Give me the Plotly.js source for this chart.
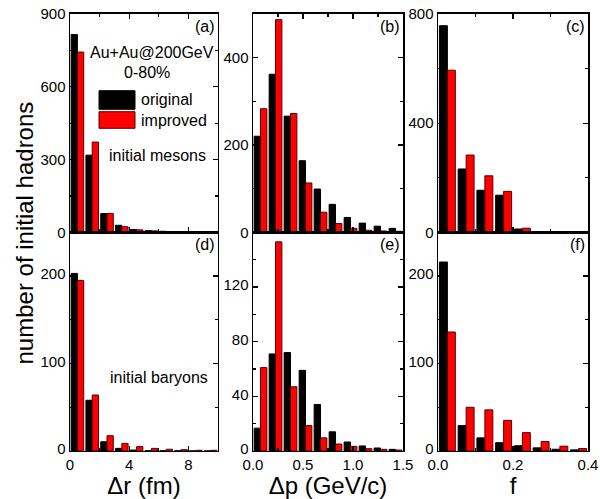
<!DOCTYPE html>
<html>
<head>
<meta charset="utf-8">
<script src="https://cdn.plot.ly/plotly-3.0.1.min.js"></script>
<style>
  html, body { margin: 0; padding: 0; background: #fff; }
  #chart { width: 600px; height: 499px; }
</style>
</head>
<body>
<div id="chart"></div>
<script>
// ---- data ----
const drCenters = [0.5, 1.5, 2.5, 3.5, 4.5, 5.5, 6.5, 7.5, 8.5, 9.5];          // Δr (fm) bin centers
const dpCenters = [0.075, 0.225, 0.375, 0.525, 0.675, 0.825, 0.975, 1.125, 1.275, 1.425]; // Δp (GeV/c)
const fCenters  = [0.025, 0.075, 0.125, 0.175, 0.225, 0.275, 0.325, 0.375];   // f

// (a) initial mesons vs Δr
const mesonDrOriginal = [815, 318, 77, 29, 11, 7, 4, 2, 1.5, 1];
const mesonDrImproved = [743, 372, 77, 23, 10, 6, 3, 2, 1.5, 1];
// (b) initial mesons vs Δp
const mesonDpOriginal = [220, 362, 266, 164, 99, 64, 34, 21, 14, 9];
const mesonDpImproved = [283, 487, 272, 113, 46, 20, 9, 4.6, 3, 2.3];
// (c) initial mesons vs f
const mesonFOriginal = [757, 232, 154, 136, 12, 0, 0, 0];
const mesonFImproved = [594, 283, 207, 150, 15, 0, 0, 0];
// (d) initial baryons vs Δr
const baryonDrOriginal = [203, 58, 10.6, 3, 1.1, 0.4, 0.3, 0.2, 0.1, 0.1];
const baryonDrImproved = [195, 64, 17.5, 8.7, 5, 3, 2, 1.5, 0.8, 0.8];
// (e) initial baryons vs Δp
const baryonDpOriginal = [16.7, 71, 72, 59, 34, 14, 6.6, 3.7, 2.2, 1.2];
const baryonDpImproved = [61, 153, 47, 18.6, 9.6, 5.1, 3.4, 1.7, 1.2, 0.7];
// (f) initial baryons vs f
const baryonFOriginal = [216, 29, 15, 9.5, 6, 3.6, 2, 1.3];
const baryonFImproved = [136, 50, 47, 35, 21, 10.8, 5.5, 2.8];

// tick labels
const drTicks = [0, 4, 8];
const dpTicks = [0, 0.5, 1.0, 1.5];
const fTicks = [0, 0.2, 0.4];
const yTicksA = [0, 300, 600, 900];
const yTicksB = [0, 200, 400];
const yTicksC = [0, 400, 800];
const yTicksD = [0, 100, 200];
const yTicksE = [0, 40, 80, 120];
const yTicksF = [0, 100, 200];

const seriesNames = ['original', 'improved'];
const panelLabels = ['(a)', '(b)', '(c)', '(d)', '(e)', '(f)'];
const xTitles = ['Δr (fm)', 'Δp (GeV/c)', 'f'];
const yTitle = 'number of initial hadrons';

// ---- styling ----
const FONT = 'Liberation Sans, Arial, Helvetica, sans-serif';
const BLACK = '#000000';
const RED = '#ff0000';
const RED_EDGE = '#5a0000';

function pair(xs, orig, impr, n) {
  const xa = n === 1 ? 'x' : 'x' + n;
  const ya = n === 1 ? 'y' : 'y' + n;
  return [
    { type: 'bar', name: seriesNames[0], x: xs, y: orig, xaxis: xa, yaxis: ya,
      marker: { color: BLACK, line: { color: BLACK, width: 1 } }, showlegend: false },
    { type: 'bar', name: seriesNames[1], x: xs, y: impr, xaxis: xa, yaxis: ya,
      marker: { color: RED, line: { color: RED_EDGE, width: 1 } }, showlegend: false }
  ];
}

const data = [].concat(
  pair(drCenters, mesonDrOriginal, mesonDrImproved, 1),
  pair(dpCenters, mesonDpOriginal, mesonDpImproved, 2),
  pair(fCenters, mesonFOriginal, mesonFImproved, 3),
  pair(drCenters, baryonDrOriginal, baryonDrImproved, 4),
  pair(dpCenters, baryonDpOriginal, baryonDpImproved, 5),
  pair(fCenters, baryonFOriginal, baryonFImproved, 6)
);

const colDomains = [[0.1167, 0.3633], [0.4217, 0.6717], [0.73, 0.98]];
const rowDomains = [[0.5345, 0.972], [0.0962, 0.5345]];

const tickFont = { family: FONT, size: 15, color: BLACK };

function xAxis(col, row, range, tickvals, minor, fmt, title) {
  const n = row * 3 + col + 1;
  const ax = {
    domain: colDomains[col], anchor: 'y' + (n === 1 ? '' : n),
    range: range, autorange: false, fixedrange: true,
    showline: true, linecolor: BLACK, linewidth: 1.5,
    mirror: row === 0 ? 'ticks' : true,
    ticks: 'inside', ticklen: 5, tickwidth: 1.2, tickcolor: BLACK,
    tickmode: 'array', tickvals: tickvals, tickformat: fmt,
    minor: { tickmode: 'linear', tick0: 0, dtick: minor, ticks: 'inside', ticklen: 3, tickwidth: 1.2, tickcolor: BLACK, showgrid: false },
    showticklabels: row === 1, tickfont: tickFont,
    showgrid: false, zeroline: false
  };
  if (title) ax.title = { text: title, font: { family: FONT, size: 24, color: BLACK }, standoff: 2 };
  return ax;
}
function yAxis(col, row, range, tickvals, minor) {
  const n = row * 3 + col + 1;
  const ax = {
    domain: rowDomains[row], anchor: 'x' + (n === 1 ? '' : n),
    range: range, autorange: false, fixedrange: true,
    showline: true, linecolor: BLACK, linewidth: 1.5, mirror: 'ticks',
    ticks: 'inside', ticklen: 5, tickwidth: 1.2, tickcolor: BLACK,
    tickmode: 'array', tickvals: tickvals,
    minor: { tickmode: 'linear', tick0: 0, dtick: minor, ticks: 'inside', ticklen: 3, tickwidth: 1.2, tickcolor: BLACK, showgrid: false },
    showticklabels: true, tickfont: tickFont,
    showgrid: false, zeroline: false
  };
  if (row === 1) ax.ticklabelshift = -2;
  return ax;
}

function P(px) { return px / 600; }
function Q(py) { return 1 - py / 499; }

const annFont = { family: FONT, size: 16, color: BLACK };
const annotations = [];
panelLabels.forEach(function (lab, i) {
  annotations.push({
    text: lab, xref: (i === 0 ? 'x' : 'x' + (i + 1)) + ' domain', yref: (i === 0 ? 'y' : 'y' + (i + 1)) + ' domain',
    x: 1, y: 1, xanchor: 'right', yanchor: 'top', xshift: -1, yshift: -2,
    showarrow: false, font: annFont
  });
});
annotations.push(
  { text: 'Au+Au@200GeV', xref: 'paper', yref: 'paper', x: P(152), y: Q(52), showarrow: false, font: annFont, xanchor: 'center', yanchor: 'middle' },
  { text: '0-80%', xref: 'paper', yref: 'paper', x: P(147), y: Q(72), showarrow: false, font: annFont, xanchor: 'center', yanchor: 'middle' },
  { text: seriesNames[0], xref: 'paper', yref: 'paper', x: P(139), y: Q(100), showarrow: false, font: annFont, xanchor: 'left', yanchor: 'middle' },
  { text: seriesNames[1], xref: 'paper', yref: 'paper', x: P(139), y: Q(120.5), showarrow: false, font: annFont, xanchor: 'left', yanchor: 'middle' },
  { text: 'initial mesons', xref: 'paper', yref: 'paper', x: P(158), y: Q(155), showarrow: false, font: annFont, xanchor: 'center', yanchor: 'middle' },
  { text: 'initial baryons', xref: 'paper', yref: 'paper', x: P(159), y: Q(377), showarrow: false, font: annFont, xanchor: 'center', yanchor: 'middle' },
  { text: yTitle, xref: 'paper', yref: 'paper', x: P(24), y: Q(233.5), textangle: -90, showarrow: false,
    font: { family: FONT, size: 24, color: BLACK }, xanchor: 'center', yanchor: 'middle' }
);

const shapes = [
  { type: 'rect', xref: 'paper', yref: 'paper', x0: P(99), x1: P(135), y0: Q(109.3), y1: Q(90.7),
    fillcolor: BLACK, line: { color: BLACK, width: 1 } },
  { type: 'rect', xref: 'paper', yref: 'paper', x0: P(99), x1: P(135), y0: Q(128.3), y1: Q(111.7),
    fillcolor: RED, line: { color: RED_EDGE, width: 1 } }
];

const layout = {
  width: 600, height: 499,
  margin: { l: 0, r: 0, t: 0, b: 0, pad: 0 },
  paper_bgcolor: '#ffffff', plot_bgcolor: '#ffffff',
  font: { family: FONT, color: BLACK },
  showlegend: false,
  barmode: 'group', bargap: 0.15, bargroupgap: 0,
  xaxis:  xAxis(0, 0, [0, 10], drTicks, 2, '', null),
  xaxis2: xAxis(1, 0, [0, 1.5], dpTicks, 0.25, '.1f', null),
  xaxis3: xAxis(2, 0, [0, 0.4], fTicks, 0.1, '.1f', null),
  xaxis4: xAxis(0, 1, [0, 10], drTicks, 2, '', xTitles[0]),
  xaxis5: xAxis(1, 1, [0, 1.5], dpTicks, 0.25, '.1f', xTitles[1]),
  xaxis6: xAxis(2, 1, [0, 0.4], fTicks, 0.1, '.1f', xTitles[2]),
  yaxis:  yAxis(0, 0, [0, 900], yTicksA, 150),
  yaxis2: yAxis(1, 0, [0, 500], yTicksB, 100),
  yaxis3: yAxis(2, 0, [0, 800], yTicksC, 200),
  yaxis4: yAxis(0, 1, [0, 250], yTicksD, 50),
  yaxis5: yAxis(1, 1, [0, 160], yTicksE, 20),
  yaxis6: yAxis(2, 1, [0, 250], yTicksF, 50),
  annotations: annotations,
  shapes: shapes
};

Plotly.newPlot('chart', data, layout, { staticPlot: true, displayModeBar: false });
</script>
</body>
</html>
